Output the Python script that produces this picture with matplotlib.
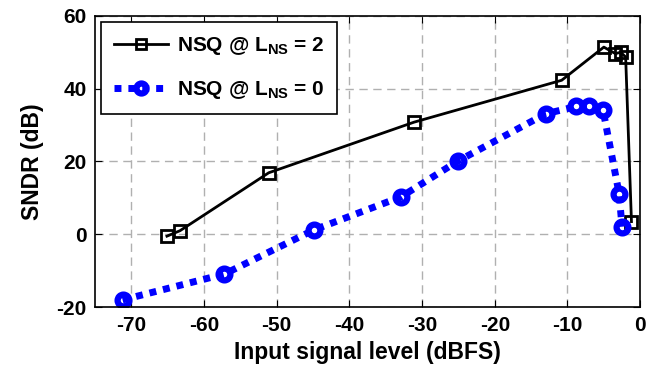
import numpy as np
import matplotlib.pyplot as plt

plt.rcParams['font.family'] = ['Liberation Sans', 'DejaVu Sans']
plt.rcParams['font.weight'] = 'bold'
plt.rcParams['axes.unicode_minus'] = False
plt.rcParams['mathtext.fontset'] = 'custom'
plt.rcParams['mathtext.bf'] = 'Liberation Sans:bold'
plt.rcParams['mathtext.rm'] = 'Liberation Sans:bold'

# NSQ @ L_NS = 2
x_ns2 = [-65.1, -63.3, -51.1, -31.1, -10.8, -5.0, -3.4, -2.7, -2.0, -1.2]
y_ns2 = [-0.5, 1.0, 16.9, 30.8, 42.3, 51.4, 49.6, 50.0, 48.7, 3.5]

# NSQ @ L_NS = 0
x_ns0 = [-71.2, -57.2, -44.9, -32.9, -25.0, -13.0, -8.8, -7.1, -5.1, -2.9, -2.5]
y_ns0 = [-18.0, -10.9, 1.2, 10.3, 20.2, 33.1, 35.1, 35.1, 34.0, 11.2, 2.1]

fig = plt.figure(figsize=(6.46, 3.76), dpi=100)
ax = fig.add_axes([0.147, 0.183, 0.844, 0.775])

ax.plot(x_ns2, y_ns2, color='black', lw=2, marker='s', ms=8.5,
        mfc='none', mec='black', mew=2, label=r'NSQ @ L$_\mathbf{NS}$ = 2')
ax.plot(x_ns0, y_ns0, color='blue', lw=5, ls=(0, (1, 1)), marker='o', ms=8.5,
        mfc='none', mec='blue', mew=4.5, label=r'NSQ @ L$_\mathbf{NS}$ = 0')

ax.set_xlim(-75, 0)
ax.set_ylim(-20, 60)
ax.set_xticks(np.arange(-70, 1, 10))
ax.set_yticks(np.arange(-20, 61, 20))
ax.grid(True, ls=(0, (6, 4)), color='#b0b0b0', lw=1)
ax.tick_params(direction='in', top=True, right=True, labelsize=15, length=5, pad=6)
for s in ax.spines.values():
    s.set_linewidth(1.2)

ax.set_xlabel('Input signal level (dBFS)', fontsize=16.5, fontweight='bold', labelpad=5)
ax.set_ylabel('SNDR (dB)', fontsize=16.5, fontweight='bold', labelpad=9)

leg = ax.legend(loc='upper left', fontsize=15, fancybox=False, framealpha=1,
                edgecolor='black', borderaxespad=0.3, handlelength=2.6,
                handletextpad=0.4, labelspacing=1.05, borderpad=0.62,
                markerscale=0.85)
leg.get_frame().set_linewidth(1.2)

fig.savefig('out.png', dpi=100)
